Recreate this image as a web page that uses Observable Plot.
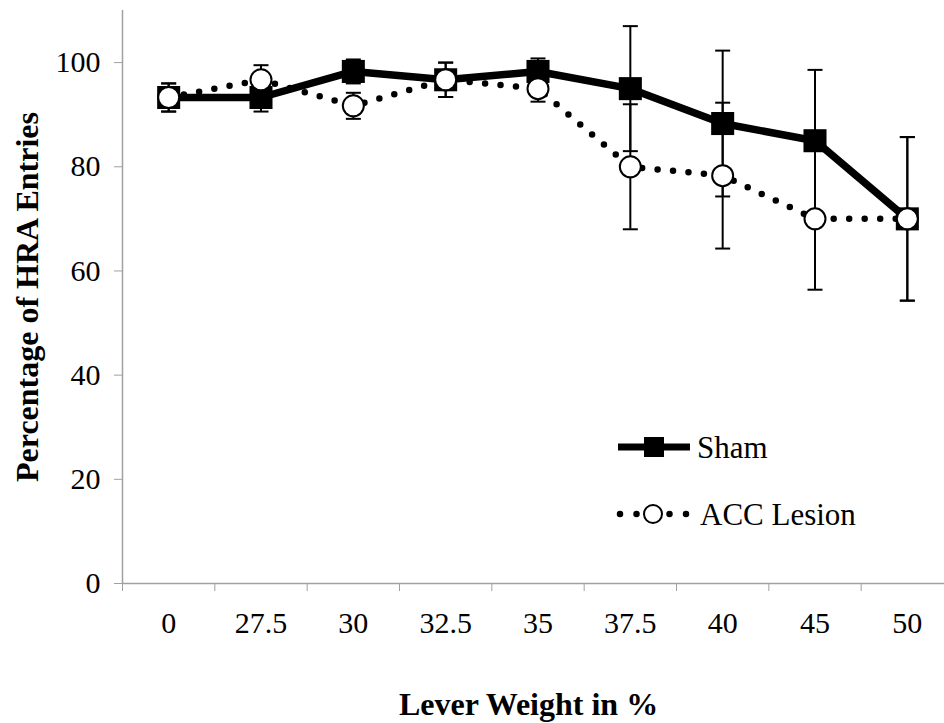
<!DOCTYPE html>
<html><head><meta charset="utf-8">
<script src="https://cdn.jsdelivr.net/npm/d3@7"></script>
<script src="https://cdn.jsdelivr.net/npm/@observablehq/plot@0.6"></script>
<style>
html,body{margin:0;padding:0;background:#fff;}
#wrap{position:relative;width:944px;height:723px;font-family:"Liberation Serif","Times New Roman",serif;overflow:hidden;}
#legend{position:absolute;left:0;top:0;}
</style></head><body><div id="wrap"></div>
<script>
const categories = ["0","27.5","30","32.5","35","37.5","40","45","50"];
const shamValues = [93.3,93.3,98.3,96.7,98.3,95,88.3,85,70];
const shamErrors = [2.7,2.7,2.3,3.3,2.5,12,14,13.6,15.7];
const accValues = [93.3,96.7,91.7,96.7,95,80,78.3,70,70];
const accErrors = [2.7,2.8,2.5,3.3,2.5,12,14,13.6,15.7];
const yTicks = [0,20,40,60,80,100];
const seriesNames = ["Sham","ACC Lesion"];
const xTitle = "Lever Weight in %";
const yTitle = "Percentage of HRA Entries";

const rows = (vals, errs, s) => vals.map((v,i)=>({i, label: categories[i], v, lo: v-errs[i], hi: v+errs[i], series: s}));
const sham = rows(shamValues, shamErrors, seriesNames[0]);
const acc = rows(accValues, accErrors, seriesNames[1]);
const all = sham.concat(acc);

const cap = {draw(ctx){ ctx.moveTo(-7.5,0); ctx.lineTo(7.5,0); }};
const axisColor = "#a0a0a0";
const boundaries = d3.range(categories.length+1).map(i=>i-0.5);

const chart = Plot.plot({
  width:944, height:723,
  marginLeft:122, marginRight:0, marginTop:10, marginBottom:140,
  style:{fontFamily:'"Liberation Serif", "Times New Roman", serif', background:"#fff", color:"#000"},
  x:{type:"linear", domain:[-0.5, categories.length-0.5], range:[122, 953], label:null},
  y:{domain:[0,110], label:null},
  marks:[
    Plot.ruleX([-0.5], {stroke: axisColor, strokeWidth:1.5}),
    Plot.ruleY([0], {stroke: axisColor, strokeWidth:1.5}),
    Plot.axisY({ticks:yTicks, tickSize:8, tickPadding:14, fontSize:30, stroke:axisColor, fill:"#000", tickFormat:d=>String(d), label:null}),
    Plot.axisX({ticks:boundaries, tickSize:8, stroke:axisColor, tickFormat:()=>"", label:null}),
    Plot.axisX({ticks:d3.range(categories.length), tickSize:0, tickPadding:28, fontSize:30, fill:"#000", tickFormat:i=>categories[i], label:null}),
    Plot.line(sham, {x:"i", y:"v", stroke:"#000", strokeWidth:7.5, strokeLinejoin:"round"}),
    Plot.line(acc, {x:"i", y:"v", stroke:"#000", strokeWidth:6.5, strokeLinecap:"round", strokeDasharray:"0 15.5"}),
    Plot.ruleX(all, {x:"i", y1:"lo", y2:"hi", stroke:"#000", strokeWidth:2}),
    Plot.dot(all, {x:"i", y:"lo", symbol:cap, stroke:"#000", fill:"none", strokeWidth:2, r:5}),
    Plot.dot(all, {x:"i", y:"hi", symbol:cap, stroke:"#000", fill:"none", strokeWidth:2, r:5}),
    Plot.dot(sham, {x:"i", y:"v", symbol:"square", r:13, fill:"#000"}),
    Plot.dot(acc, {x:"i", y:"v", symbol:"circle", r:10.5, fill:"#fff", stroke:"#000", strokeWidth:2}),
    Plot.text([yTitle], {frameAnchor:"left", textAnchor:"middle", rotate:-90, dx:-95, fontSize:32, fontWeight:"bold", fill:"#000"}),
    Plot.text([xTitle], {frameAnchor:"bottom", textAnchor:"middle", dx:-5, dy:131, fontSize:32, fontWeight:"bold", fill:"#000"})
  ]
});
const wrap = document.getElementById("wrap");
wrap.appendChild(chart);

// legend overlay
const lg = d3.select(wrap).append("svg").attr("id","legend").attr("width",944).attr("height",723)
  .style("font-family",'"Liberation Serif", "Times New Roman", serif');
const r1 = lg.append("g").attr("transform","translate(618,447)");
r1.append("line").attr("x1",0).attr("x2",72).attr("stroke","#000").attr("stroke-width",7);
r1.append("rect").attr("x",26).attr("y",-10).attr("width",20).attr("height",20).attr("fill","#000");
r1.append("text").attr("x",79).attr("y",11).attr("font-size",31).text(seriesNames[0]);
const r2 = lg.append("g").attr("transform","translate(618,514)");
r2.append("line").attr("x1",2).attr("x2",70).attr("stroke","#000").attr("stroke-width",6.5)
  .attr("stroke-linecap","round").attr("stroke-dasharray","0 16.5");
r2.append("circle").attr("cx",35).attr("cy",0).attr("r",9).attr("fill","#fff").attr("stroke","#000").attr("stroke-width",2);
r2.append("text").attr("x",82).attr("y",11).attr("font-size",31).text(seriesNames[1]);
</script></body></html>
